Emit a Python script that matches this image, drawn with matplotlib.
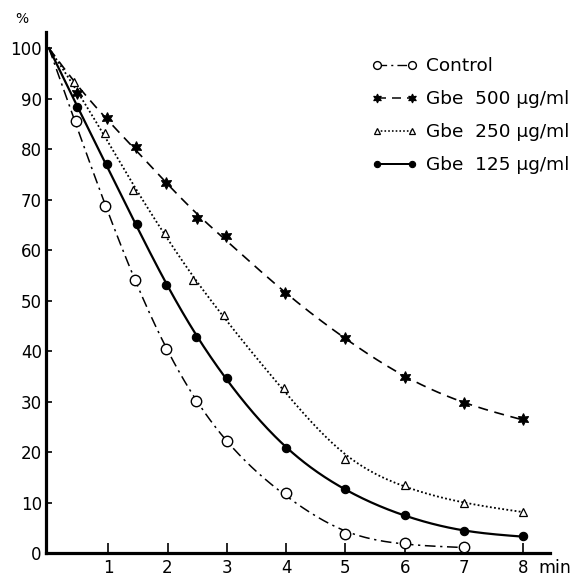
import numpy as np
import matplotlib
matplotlib.use("Agg")
import matplotlib.pyplot as plt
from matplotlib.lines import Line2D

# ---- data ----
ctrl_x = [0, 0.45, 0.95, 1.45, 1.97, 2.48, 3.0, 4.0, 5.0, 6.0, 7.0]
ctrl_y = [100, 85.5, 68.8, 54.0, 40.4, 30.1, 22.2, 11.9, 3.8, 2.0, 1.2]

g500_x = [0, 0.48, 0.98, 1.47, 1.98, 2.5, 2.98, 3.98, 5.0, 6.0, 7.0, 8.0]
g500_y = [100, 91.2, 86.1, 80.4, 73.3, 66.3, 62.7, 51.5, 42.6, 34.9, 29.7, 26.5]

g250_x = [0, 0.42, 0.94, 1.42, 1.96, 2.43, 2.95, 3.97, 5.0, 6.0, 7.0, 8.0]
g250_y = [100, 93.3, 83.2, 72.0, 63.4, 54.1, 47.1, 32.6, 18.6, 13.5, 10.0, 8.2]

g125_x = [0, 0.47, 0.98, 1.48, 1.97, 2.48, 3.0, 4.0, 5.0, 6.0, 7.0, 8.0]
g125_y = [100, 88.3, 77.0, 65.1, 53.1, 42.8, 34.7, 20.7, 12.7, 7.5, 4.3, 3.4]

labels = ["Control", "Gbe  500 μg/ml", "Gbe  250 μg/ml", "Gbe  125 μg/ml"]
x_ticks = [1, 2, 3, 4, 5, 6, 7, 8]
y_ticks = [0, 10, 20, 30, 40, 50, 60, 70, 80, 90, 100]


def smooth_curve(x, y, lam=0.08, n=400):
    """Penalised smoothing curve fitted to a series (drawing only)."""
    x = np.asarray(x, float)
    y = np.asarray(y, float)
    xs = np.linspace(x[0], x[-1], n)
    h = xs[1] - xs[0]
    A = np.zeros((len(x), n))
    for i, xi in enumerate(x):
        j = min(int((xi - xs[0]) / h), n - 2)
        t = (xi - xs[j]) / h
        A[i, j] = 1 - t
        A[i, j + 1] = t
    w = np.ones(len(x))
    w[0] = 50.0
    D = np.diff(np.eye(n), 2, axis=0)
    M = A.T @ (w[:, None] * A) + (lam / h**3) * D.T @ D
    f = np.linalg.solve(M, A.T @ (w * y))
    return xs, f


fig = plt.figure(figsize=(5.76, 5.77), dpi=100)
ax = fig.add_axes([46 / 576, 1 - 553 / 577, (550 - 46) / 576, (553 - 32) / 577])

styles = [
    dict(ls=(0, (7, 3, 1.5, 3)), lw=1.1, marker="o", ms=7.5, mfc="white", mew=1.0),
    dict(ls=(0, (6, 4)), lw=1.2, marker=(6, 1, 0), ms=8.5, mfc="black", mew=0.8),
    dict(ls=(0, (1, 1.3)), lw=1.3, marker="^", ms=6, mfc="white", mew=0.9),
    dict(ls="-", lw=1.6, marker="o", ms=6, mfc="black", mew=0.8),
]
series = [(ctrl_x, ctrl_y), (g500_x, g500_y), (g250_x, g250_y), (g125_x, g125_y)]

handles = []
for (xs, ys), st in zip(series, styles):
    cx, cy = smooth_curve(xs, ys)
    ax.plot(cx, np.clip(cy, 0.3, None), color="black", ls=st["ls"], lw=st["lw"], zorder=2)
    ax.plot(xs[1:], ys[1:], ls="none", marker=st["marker"], ms=st["ms"],
            mfc=st["mfc"], mec="black", mew=st["mew"], zorder=3, clip_on=False)
    handles.append(Line2D([], [], color="black", ls=st["ls"], lw=st["lw"] * 0.9,
                          marker=st["marker"], ms=st["ms"] * 0.75, mfc=st["mfc"],
                          mec="black", mew=st["mew"]))

ax.set_xlim(-0.05, 8.45)
ax.set_ylim(0, 103.2)
for s in ["top", "right"]:
    ax.spines[s].set_visible(False)
for s in ["left", "bottom"]:
    ax.spines[s].set_linewidth(2.3)

ax.set_xticks(x_ticks)
ax.set_yticks(y_ticks)
ax.tick_params(axis="x", direction="in", length=7.5, width=1.2, pad=4, labelsize=12)
ax.tick_params(axis="y", direction="in", length=4.5, width=1.2, pad=3, labelsize=12)

fig.text(22 / 576, 1 - 19 / 577, "%", fontsize=10, ha="center", va="center")
ax.annotate("min", xy=(8, 0), xycoords=("data", "axes fraction"),
            xytext=(11, -11), textcoords="offset points", ha="left", va="center", fontsize=12.5)

ax.legend(handles, labels, loc="upper left", bbox_to_anchor=(371 / 576, 1 - 57 / 577),
          bbox_transform=fig.transFigure, frameon=False, fontsize=13.3, numpoints=2,
          handlelength=2.5, handletextpad=0.5, labelspacing=0.82, borderaxespad=0,
          borderpad=0)

fig.savefig("out.png", dpi=100)
